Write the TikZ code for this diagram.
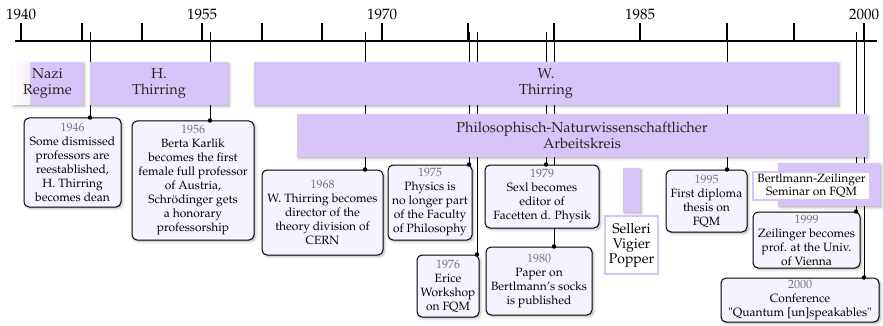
\documentclass[tikz,border=0pt]{standalone}
\usepackage[T1]{fontenc}
\usepackage{mathpazo}
\usetikzlibrary{positioning, shadows.blur}

\definecolor{bandcol}{RGB}{215,196,248}
\definecolor{boxcol}{RGB}{247,243,254}
\definecolor{yeargray}{RGB}{115,115,115}
\pgfdeclarelayer{bg}
\pgfsetlayers{bg,main}

\begin{document}
\begin{tikzpicture}[
    x=1pt, y=-1pt,
    softshadow/.style={blur shadow={shadow xshift=1.5pt, shadow yshift=-1.5pt, shadow blur radius=2.5pt, shadow opacity=32}},
    band/.style={rectangle, fill=bandcol, inner sep=2pt, align=center, text=black!85, font=\fontsize{14.5}{15.5}\selectfont, softshadow},
    event/.style={rectangle, rounded corners=5pt, draw=black, line width=1pt, fill=boxcol, inner sep=1pt, align=center, font=\fontsize{12}{14}\selectfont, softshadow},
    note/.style={rectangle, fill=white, draw=bandcol, line width=2.2pt, inner sep=2pt, align=center},
    axistick/.style={line width=1.6pt},
    eventline/.style={line width=0.7pt},
    dot/.style={circle, fill=black, inner sep=0pt, minimum size=4.5pt},
    yearlabel/.style={font=\fontsize{15}{16}\selectfont}
]
    \useasboundingbox (0,0) rectangle (883,326);

    % Axis
    \draw[axistick] (15,41) -- (877,41);
    \foreach \x in {21,82,142,202,262,322,382,468,554,640,727,794,864}
        \draw[axistick] (\x,23) -- (\x,41);
    \foreach \x/\yr in {21/1940, 202/1955, 382/1970, 640/1985, 864/2000}
        \node[yearlabel] (y\yr) at (\x,14) {\yr};

    % Periods
    \node[band, minimum width=71pt, minimum height=43pt,
        path picture={\fill[left color=white, right color=bandcol] (path picture bounding box.south west) rectangle ([xshift=18pt]path picture bounding box.north west);}]
        (nazi) at (47.5,83.5) {Nazi\\Regime};
    \node[band, minimum width=138pt, minimum height=43pt] (hthirring) at (159,83.5) {H.\\Thirring};
    \node[band, minimum width=584pt, minimum height=43pt] (wthirring) at (546,83.5) {W.\\Thirring};
    \node[band, minimum width=570pt, minimum height=43pt] (phil) at (582,135.5) {Philosophisch-Naturwissenschaftlicher\\Arbeitskreis};
    \node[band, minimum width=102pt, minimum height=43pt] (bzband) at (829,184.5) {};
    \node[note, minimum width=117pt, minimum height=26pt, font=\fontsize{12}{13}\selectfont] (bzseminar) at (811.5,186) {Bertlmann-Zeilinger\\Seminar on FQM};
    \node[band, minimum width=17pt, minimum height=44pt] (sbar) at (631.5,190) {};
    \node[note, minimum width=53pt, minimum height=58pt, font=\fontsize{14}{15}\selectfont] (svp) at (631.5,245) {Selleri\\Vigier\\Popper};

    % Events
    \node[event, minimum width=97pt, minimum height=89pt] (e1946) at (72.5,162.5)
        {{\color{yeargray}1946}\\Some dismissed\\professors are\\reestablished,\\H. Thirring\\becomes dean};
    \node[event, minimum width=122pt, minimum height=119pt] (e1956) at (193,180.5)
        {{\color{yeargray}1956}\\Berta Karlik\\becomes the first\\female full professor\\of Austria,\\Schr\"odinger gets\\a honorary\\professorship};
    \node[event, minimum width=121pt, minimum height=85pt] (e1968) at (322.5,212.5)
        {{\color{yeargray}1968}\\W. Thirring becomes\\director of the\\theory division of\\CERN};
    \node[event, minimum width=84pt, minimum height=75pt] (e1975) at (430,202.5)
        {{\color{yeargray}1975}\\Physics is\\no longer part\\of the Faculty\\of Philosophy};
    \node[event, minimum width=62pt, minimum height=62pt] (e1976) at (448,286)
        {{\color{yeargray}1976}\\Erice\\Workshop\\on FQM};
    \node[event, minimum width=114pt, minimum height=63pt] (e1979) at (542,196.5)
        {{\color{yeargray}1979}\\Sexl becomes\\editor of\\Facetten d. Physik};
    \node[event, minimum width=106pt, minimum height=68pt] (e1980) at (539,281)
        {{\color{yeargray}1980}\\Paper on\\Bertlmann's socks\\is published};
    \node[event, minimum width=81pt, minimum height=62pt] (e1995) at (706.5,201)
        {{\color{yeargray}1995}\\First diploma\\thesis on\\FQM};
    \node[event, minimum width=107pt, minimum height=56pt] (e1999) at (806.5,240)
        {{\color{yeargray}1999}\\Zeilinger becomes\\prof. at the Univ.\\of Vienna};
    \node[event, minimum width=158pt, minimum height=44pt] (e2000) at (800,300)
        {{\color{yeargray}2000}\\Conference\\\textquotedbl Quantum [un]speakables\textquotedbl};

    % Year markers
    \foreach \yr/\x in {1946/90, 1956/210, 1968/365, 1975/469, 1976/477, 1979/546, 1980/554, 1995/727, 1999/856, 2000/864} {
        \coordinate (t\yr) at (\x,32);
        \node[dot] (d\yr) at (t\yr |- e\yr.north) {};
        \begin{pgfonlayer}{bg}
            \draw[eventline] (t\yr) -- (d\yr.center);
        \end{pgfonlayer}
    }

\end{tikzpicture}
\end{document}
